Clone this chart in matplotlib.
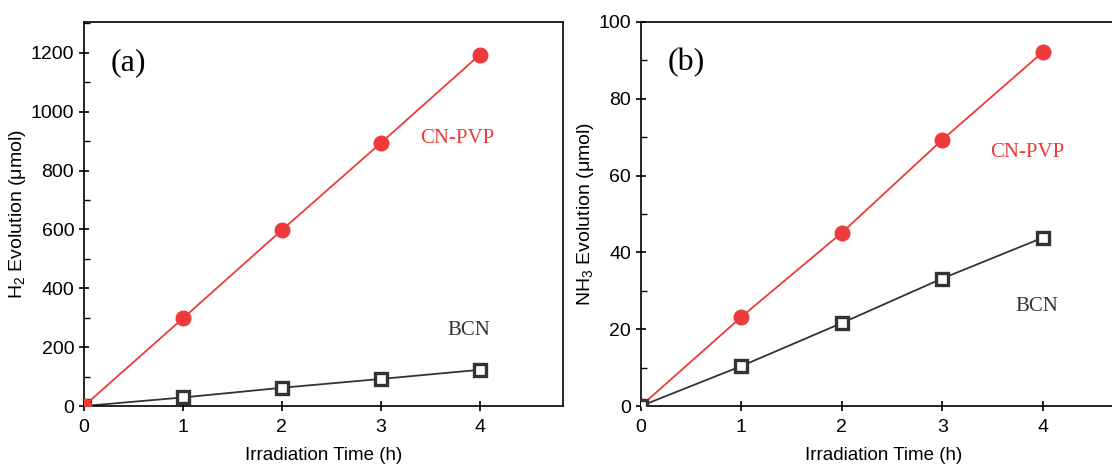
import matplotlib
matplotlib.use("Agg")
import matplotlib.pyplot as plt
from matplotlib.ticker import MultipleLocator

# data
time_h = [0, 1, 2, 3, 4]
h2_cnpvp = [0, 298, 598, 894, 1194]
h2_bcn = [0, 29, 62, 92, 123]
nh3_cnpvp = [0, 23.2, 45.1, 69.3, 92.1]
nh3_bcn = [0, 10.4, 21.6, 33.2, 43.8]

RED = '#ee3a3a'
DARK = '#333333'

plt.rcParams['font.family'] = ['Liberation Sans', 'DejaVu Sans']
plt.rcParams['mathtext.fontset'] = 'custom'
plt.rcParams['mathtext.rm'] = 'Liberation Sans'

fig = plt.figure(figsize=(11.12, 4.67), dpi=100)
ax1 = fig.add_axes([0.0755, 0.1306, 0.4308, 0.8223])
ax2 = fig.add_axes([0.5764, 0.1306, 0.4370, 0.8223])


def draw_panel(ax, y_red, y_black, ymax, ymajor, yminor, ylabel, tag, red_pos, black_pos, black_on_top):
    z_red, z_black = (2, 3) if black_on_top else (3, 2)
    ax.plot(time_h, y_black, '-', color=DARK, lw=1.3, marker='s', ms=8.5,
            mfc='white', mec=DARK, mew=2.4, zorder=z_black)
    ax.plot(time_h, y_red, '-', color=RED, lw=1.3, marker='o', ms=10.5,
            mfc=RED, mec=RED, zorder=z_red)
    ax.set_xlim(0, 4.84)
    ax.set_ylim(0, ymax)
    ax.xaxis.set_major_locator(MultipleLocator(1))
    ax.yaxis.set_major_locator(MultipleLocator(ymajor))
    ax.yaxis.set_minor_locator(MultipleLocator(yminor))
    ax.tick_params(axis='both', which='major', direction='inout', length=7, width=1.2,
                   labelsize=14, top=False, right=False)
    ax.tick_params(axis='x', which='major', pad=6)
    ax.tick_params(axis='y', which='minor', direction='in', length=4, width=1.0)
    for s in ax.spines.values():
        s.set_linewidth(1.2)
    ax.set_xlabel('Irradiation Time (h)', fontsize=13.5, labelpad=8)
    ax.set_ylabel(ylabel, fontsize=14, labelpad=2)
    ax.text(0.055, 0.895, tag, transform=ax.transAxes, fontsize=23,
            family='Liberation Serif', va='center', ha='left')
    ax.text(red_pos[0], red_pos[1], 'CN-PVP', color=RED, fontsize=15,
            family='Liberation Serif', va='center', ha='left')
    ax.text(black_pos[0], black_pos[1], 'BCN', color=DARK, fontsize=15,
            family='Liberation Serif', va='center', ha='left')


draw_panel(ax1, h2_cnpvp, h2_bcn, 1305, 200, 100, r'H$_2$ Evolution (μmol)', '(a)',
           (3.4, 910), (3.67, 255), False)
draw_panel(ax2, nh3_cnpvp, nh3_bcn, 100, 20, 10, r'NH$_3$ Evolution (μmol)', '(b)',
           (3.48, 66), (3.73, 26), True)

fig.savefig('out.png', dpi=100)
